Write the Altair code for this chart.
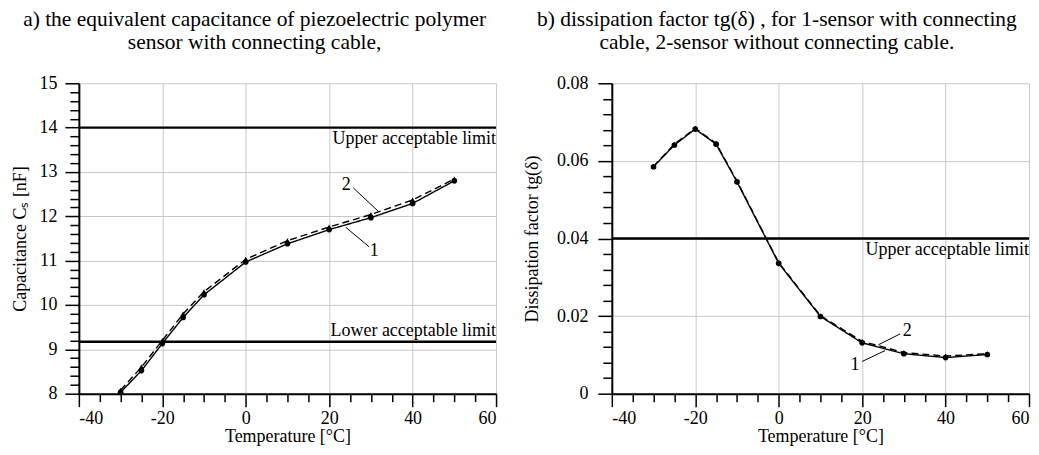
import altair as alt
import pandas as pd

# ---------------- data ----------------
temps = [-30, -25, -20, -15, -10, 0, 10, 20, 30, 40, 50]
cap_1 = [8.03, 8.52, 9.13, 9.72, 10.23, 10.97, 11.38, 11.70, 11.97, 12.29, 12.80]
cap_2 = [8.08, 8.60, 9.20, 9.80, 10.30, 11.03, 11.45, 11.76, 12.04, 12.37, 12.84]
tg_1 = [0.0585, 0.0641, 0.0682, 0.0643, 0.0546, 0.0336, 0.0199, 0.0131, 0.0103, 0.0093, 0.0101]
tg_2 = [0.0586, 0.0643, 0.0684, 0.0645, 0.0548, 0.0338, 0.0201, 0.0135, 0.0106, 0.0097, 0.0103]
series_names = ["1", "2"]

cap_limits = [14.0, 9.17]
cap_limit_labels = ["Upper acceptable limit", "Lower acceptable limit"]
tg_limits = [0.04]
tg_limit_labels = ["Upper acceptable limit"]

x_ticks = [-40, -35, -30, -25, -20, -15, -10, -5, 0, 5, 10, 15, 20, 25, 30, 35, 40, 45, 50, 55, 60]
cap_ticks = [8.0, 8.2, 8.4, 8.6, 8.8, 9.0, 9.2, 9.4, 9.6, 9.8, 10.0, 10.2, 10.4, 10.6, 10.8,
             11.0, 11.2, 11.4, 11.6, 11.8, 12.0, 12.2, 12.4, 12.6, 12.8, 13.0, 13.2, 13.4,
             13.6, 13.8, 14.0, 14.2, 14.4, 14.6, 14.8, 15.0]
tg_ticks = [0.0, 0.004, 0.008, 0.012, 0.016, 0.02, 0.024, 0.028, 0.032, 0.036, 0.04,
            0.044, 0.048, 0.052, 0.056, 0.06, 0.064, 0.068, 0.072, 0.076, 0.08]

# curve-number annotations (label position and leader line), data units
cap_ann_label = ["2", "1"]
cap_ann_x = [24.1, 30.8]
cap_ann_y = [12.60, 11.11]
cap_lead_x1 = [25.8, 24.0]
cap_lead_y1 = [12.64, 11.75]
cap_lead_x2 = [31.8, 29.6]
cap_lead_y2 = [12.11, 11.31]

tg_ann_label = ["2", "1"]
tg_ann_x = [30.8, 18.3]
tg_ann_y = [0.0148, 0.0060]
tg_lead_x1 = [29.1, 20.0]
tg_lead_y1 = [0.0154, 0.0083]
tg_lead_x2 = [23.9, 25.5]
tg_lead_y2 = [0.0126, 0.0111]

FONT = "Liberation Serif"
W, H = 418, 311


def x_enc(field):
    return alt.X(
        f"{field}:Q",
        scale=alt.Scale(domain=[-40, 60], nice=False, zero=False),
        axis=alt.Axis(
            values=x_ticks,
            title="Temperature [°C]",
            labelExpr="datum.value % 20 === 0 ? '' + datum.value : ''",
            tickSize={"condition": {"test": "datum.value % 20 === 0", "value": 13}, "value": 8},
            gridOpacity={"condition": {"test": "datum.value % 20 === 0", "value": 1}, "value": 0},
            labelOverlap=False,
            labelPadding=3,
            titlePadding=0,
        ),
    )


def cap_y(field):
    return alt.Y(
        f"{field}:Q",
        scale=alt.Scale(domain=[8, 15], nice=False, zero=False),
        axis=alt.Axis(
            values=cap_ticks,
            title="Capacitance Cₛ [nF]",
            labelExpr="abs(datum.value - round(datum.value)) < 0.001 ? '' + round(datum.value) : ''",
            tickSize={"condition": {"test": "abs(datum.value - round(datum.value)) < 0.001", "value": 14},
                      "value": 9},
            gridOpacity={"condition": {"test": "abs(datum.value - round(datum.value)) < 0.001", "value": 1},
                         "value": 0},
            labelOverlap=False,
            labelPadding=8,
            titlePadding=9,
        ),
    )


def tg_y(field):
    return alt.Y(
        f"{field}:Q",
        scale=alt.Scale(domain=[0, 0.08], nice=False, zero=False),
        axis=alt.Axis(
            values=tg_ticks,
            title="Dissipation factor tg(δ)",
            labelExpr="abs(datum.value * 50 - round(datum.value * 50)) < 0.001 ? (round(datum.value * 50) == 0 ? '0' : format(datum.value, '.2f')) : ''",
            tickSize={"condition": {"test": "abs(datum.value * 50 - round(datum.value * 50)) < 0.001", "value": 14},
                      "value": 9},
            gridOpacity={"condition": {"test": "abs(datum.value * 50 - round(datum.value * 50)) < 0.001", "value": 1},
                         "value": 0},
            labelOverlap=False,
            labelPadding=10,
            titlePadding=15,
        ),
    )


def panel(v1, v2, y_fn, limits, limit_labels, upper_dy, lower_dy,
          ann_label, ann_x, ann_y, lx1, ly1, lx2, ly2, title_lines):
    df = pd.DataFrame({
        "temp": temps + temps,
        "value": v1 + v2,
        "series": [series_names[0]] * len(temps) + [series_names[1]] * len(temps),
    })
    lim = pd.DataFrame({"value": limits, "label": limit_labels, "xpos": [60] * len(limits)})
    ann = pd.DataFrame({"ax": ann_x, "ay": ann_y, "label": ann_label})
    lead = pd.DataFrame({"lx1": lx1, "ly1": ly1, "lx2": lx2, "ly2": ly2})

    lines = alt.Chart(df).mark_line(color="black", strokeWidth=1.4).encode(
        x=x_enc("temp"), y=y_fn("value"),
        strokeDash=alt.StrokeDash("series:N", scale=alt.Scale(domain=series_names, range=[[1, 0], [7, 4]]),
                                  legend=None),
        detail="series:N",
    )
    points = alt.Chart(df).mark_point(filled=True, color="black", opacity=1, size=32).encode(
        x=x_enc("temp"), y=y_fn("value"),
        shape=alt.Shape("series:N", scale=alt.Scale(domain=series_names, range=["circle", "triangle-up"]),
                        legend=None),
    )
    rules = alt.Chart(lim).mark_rule(color="black", strokeWidth=2.5).encode(y=y_fn("value"))
    up_text = alt.Chart(lim.iloc[:1]).mark_text(
        align="right", baseline="alphabetic", dy=upper_dy, font=FONT, fontSize=18, color="black"
    ).encode(x=x_enc("xpos"), y=y_fn("value"), text="label:N")
    layers = [rules, lines, points, up_text]
    if len(limits) > 1:
        low_text = alt.Chart(lim.iloc[1:]).mark_text(
            align="right", baseline="alphabetic", dy=lower_dy, font=FONT, fontSize=18, color="black"
        ).encode(x=x_enc("xpos"), y=y_fn("value"), text="label:N")
        layers.append(low_text)
    leaders = alt.Chart(lead).mark_rule(color="black", strokeWidth=1).encode(
        x=x_enc("lx1"), y=y_fn("ly1"), x2="lx2:Q", y2="ly2:Q"
    )
    nums = alt.Chart(ann).mark_text(
        align="center", baseline="alphabetic", font=FONT, fontSize=18, color="black"
    ).encode(x=x_enc("ax"), y=y_fn("ay"), text="label:N")
    layers += [leaders, nums]
    return alt.layer(*layers).properties(
        width=W, height=H,
        title=alt.TitleParams(
            text=title_lines, font=FONT, fontSize=21.5, fontWeight="normal", color="black",
            anchor="middle", frame="bounds", lineHeight=23, offset=21,
        ),
    )


left = panel(cap_1, cap_2, cap_y, cap_limits, cap_limit_labels, 16, -6,
             cap_ann_label, cap_ann_x, cap_ann_y, cap_lead_x1, cap_lead_y1, cap_lead_x2, cap_lead_y2,
             ["a) the equivalent capacitance of piezoelectric polymer", "sensor with connecting cable,"])
right = panel(tg_1, tg_2, tg_y, tg_limits, tg_limit_labels, 17, -6,
              tg_ann_label, tg_ann_x, tg_ann_y, tg_lead_x1, tg_lead_y1, tg_lead_x2, tg_lead_y2,
              ["b) dissipation factor tg(δ) , for 1-sensor with connecting",
               "cable, 2-sensor without connecting cable."])

chart = alt.hconcat(left, right, spacing=25).properties(
    padding={"left": 4, "top": 0, "right": 0, "bottom": 0}
).configure_view(
    strokeOpacity=0
).configure_axis(
    labelFont=FONT, titleFont=FONT, labelFontSize=18, titleFontSize=18,
    titleFontWeight="normal", labelColor="black", titleColor="black",
    domainColor="black", domainWidth=2, tickColor="black", tickWidth=1.5,
    gridColor="#c8c8c8", gridWidth=1,
)

chart.save("out.html", embed_options={"renderer": "svg", "actions": False})
